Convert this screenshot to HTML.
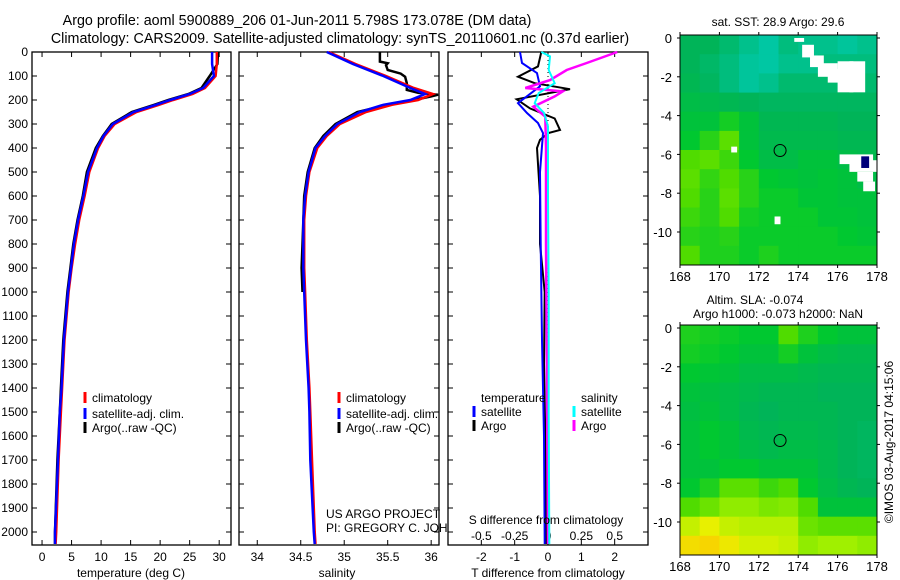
<!DOCTYPE html>
<html><head><meta charset="utf-8">
<style>
body{margin:0;background:#fff;}
svg{display:block;font-family:"Liberation Sans",sans-serif;}
text{font-size:12px;fill:#000;}
</style></head>
<body>
<svg id="fig" width="900" height="580" viewBox="0 0 900 580" xmlns="http://www.w3.org/2000/svg">
<text x="297" y="25" text-anchor="middle" style="font-size:14.3px">Argo profile: aoml 5900889_206 01-Jun-2011 5.798S 173.078E (DM data)</text>
<text x="340" y="43" text-anchor="middle" style="font-size:14.3px">Climatology: CARS2009. Satellite-adjusted climatology: synTS_20110601.nc (0.37d earlier)</text>
<g id="g"></g>
</svg>
<script>
// ---------- DATA ----------
const depthTicks=[0,100,200,300,400,500,600,700,800,900,1000,1100,1200,1300,1400,1500,1600,1700,1800,1900,2000];
const tempTicks=[0,5,10,15,20,25,30];
const salTicks=[34,34.5,35,35.5,36];
const diffTTicks=[-2,-1,0,1,2];
const diffSTicks=[-0.5,-0.25,0,0.25,0.5];
const diffSTickLabels=["-0.5","-0.25","0","0.25","0.5"];

const profDepth=[0,50,100,150,175,200,220,250,300,350,400,500,600,700,800,900,1000,1200,1400,1500,1700,2000,2050];
const tempClim=[29.6,29.6,29.4,27.6,25.5,22.2,19.8,16.0,12.3,10.6,9.5,8.0,7.2,6.3,5.6,5.0,4.5,3.8,3.4,3.2,2.8,2.4,2.3];
const tempSat=[28.8,28.8,29.1,27.3,25.0,21.7,19.3,15.5,12.0,10.4,9.3,7.8,7.0,6.1,5.4,4.9,4.4,3.7,3.3,3.0,2.7,2.2,2.2];
const tempArgo=[29.8,29.7,28.4,27.0,24.8,21.4,19.0,15.2,11.8,10.3,9.1,7.6,6.9,6.0,5.3,4.8,4.3,3.6,3.2,3.0,2.6,2.2,2.2];
const salClim=[34.82,35.13,35.48,35.8,36.02,35.85,35.55,35.25,34.95,34.8,34.69,34.6,34.56,34.54,34.54,34.54,34.55,34.57,34.6,34.61,34.63,34.66,34.67];
const salSat=[34.80,35.10,35.45,35.76,35.93,35.76,35.45,35.18,34.92,34.78,34.67,34.59,34.55,34.53,34.53,34.53,34.54,34.56,34.59,34.6,34.61,34.65,34.66];
const argoSDepth=[0,40,47,55,75,90,103,130,158,170,178,185,200,220,250,300,350,400,500,600,800,900,1000];
const salArgo=[35.41,35.41,35.5,35.48,35.5,35.65,35.7,35.72,35.72,35.85,36.08,36.0,35.8,35.5,35.15,34.9,34.76,34.66,34.58,34.54,34.52,34.51,34.52];

const dTDepthSat=[0,46,88,143,213,254,296,338,500,800,1200,1600,2050];
const dTSat=[-0.84,-0.78,-0.33,-0.24,-0.9,-0.63,-0.3,-0.15,-0.24,-0.22,-0.18,-0.12,-0.1];
const dTDepthArgo=[0,60,103,130,155,197,235,277,325,338,366,400,600,800,1000,1300,1600,2000,2050];
const dTArgo=[-0.2,-0.3,-0.9,-0.4,0.66,-0.94,-0.54,0.2,0.36,0.0,-0.24,-0.33,-0.24,-0.24,-0.1,-0.12,-0.08,-0.05,-0.05];
const dSDepthSat=[0,18,75,130,171,213,254,310,600,1000,1500,2050];
const dSSat=[-0.05,0.015,0.005,0.05,-0.07,-0.1,-0.03,0,0.0,0.005,0.005,0.01];
const dSDepthArgo=[0,46,75,117,150,164,185,228,269,400,800,1200,1600,2050];
const dSArgo=[0.52,0.29,0.14,0.015,-0.17,0.11,0.05,-0.11,-0.02,-0.015,-0.015,-0.01,-0.005,0.0];

const lonTicks=[168,170,172,174,176,178];
const latTicks=[0,-2,-4,-6,-8,-10];
const sstGrid=[
[0.45,0.45,0.42,0.38,0.35,0.40,0.38,0.38,0.36,0.38],
[0.45,0.43,0.40,0.36,0.35,0.38,0.38,0.40,0.40,0.40],
[0.46,0.44,0.40,0.36,0.38,0.42,0.42,0.42,0.42,0.42],
[0.48,0.47,0.46,0.45,0.44,0.44,0.44,0.44,0.44,0.44],
[0.50,0.50,0.54,0.50,0.46,0.46,0.46,0.46,0.45,0.45],
[0.52,0.56,0.62,0.50,0.47,0.47,0.47,0.47,0.46,0.46],
[0.60,0.62,0.58,0.52,0.48,0.48,0.50,0.50,0.48,0.47],
[0.62,0.57,0.60,0.56,0.52,0.51,0.50,0.51,0.50,0.48],
[0.60,0.56,0.62,0.56,0.53,0.53,0.51,0.51,0.50,0.50],
[0.58,0.56,0.60,0.54,0.53,0.53,0.53,0.51,0.51,0.50],
[0.56,0.55,0.56,0.53,0.53,0.53,0.53,0.53,0.52,0.51],
[0.60,0.55,0.55,0.53,0.55,0.53,0.53,0.53,0.53,0.53]];
const slaGrid=[
[0.55,0.54,0.53,0.52,0.52,0.60,0.55,0.52,0.50,0.50],
[0.54,0.53,0.52,0.50,0.50,0.54,0.50,0.48,0.47,0.47],
[0.52,0.51,0.50,0.48,0.48,0.48,0.47,0.46,0.46,0.46],
[0.50,0.49,0.48,0.47,0.46,0.46,0.46,0.45,0.45,0.45],
[0.49,0.50,0.48,0.46,0.45,0.46,0.46,0.46,0.45,0.45],
[0.50,0.52,0.50,0.47,0.46,0.47,0.47,0.46,0.45,0.44],
[0.50,0.52,0.50,0.48,0.47,0.48,0.48,0.47,0.45,0.44],
[0.50,0.50,0.52,0.52,0.50,0.50,0.50,0.47,0.45,0.44],
[0.52,0.55,0.62,0.62,0.58,0.60,0.52,0.48,0.46,0.45],
[0.60,0.65,0.72,0.72,0.68,0.70,0.60,0.50,0.50,0.50],
[0.80,0.85,0.80,0.78,0.78,0.78,0.65,0.62,0.62,0.62],
[0.92,0.95,0.88,0.82,0.82,0.80,0.72,0.75,0.75,0.72]];
// land/missing patches [lon0,lat0,lon1,lat1]
const sstMaskLon0=[173.8,174.2,174.6,175.0,175.5,176.0,176.6,176.1,176.6,177.0,177.3,172.8,170.6];
const sstMaskLat0=[0,-0.35,-0.9,-1.3,-1.6,-1.2,-1.2,-6.0,-6.3,-6.9,-7.4,-9.2,-5.6];
const sstMaskLon1=[174.3,174.8,175.3,176.0,176.8,176.8,177.4,177.8,178.0,177.8,177.9,173.1,170.9];
const sstMaskLat1=[-0.2,-1.0,-1.5,-2.0,-2.3,-2.8,-2.8,-6.5,-6.9,-7.4,-7.9,-9.6,-5.9];
const obsLon=[173.08];
const obsLat=[-5.8];

// ---------- HELPERS ----------
const NS="http://www.w3.org/2000/svg";
const G=document.getElementById('g');
function mk(tag,attrs,parent){const e=document.createElementNS(NS,tag);for(const k in attrs)e.setAttribute(k,attrs[k]);(parent||G).appendChild(e);return e;}
function txt(x,y,s,anchor,parent){const t=mk('text',{x:x,y:y,'text-anchor':anchor||'start'},parent);t.textContent=s;return t;}

const TOP=52, BOT=545;
const yD=d=>TOP+d*0.24;

function panel(name,x0,x1,vmin,vmax){
  const xs=v=>x0+(v-vmin)/(vmax-vmin)*(x1-x0);
  const g=mk('g',{});
  
  
  const r=mk('rect',{x:x0,y:TOP,width:x1-x0,height:BOT-TOP,fill:'#fff',stroke:'#000','stroke-width':1.3},g);
  
  
  depthTicks.forEach(d=>{
    mk('line',{x1:x0,x2:x0+5,y1:yD(d),y2:yD(d),stroke:'#000'},g);
    mk('line',{x1:x1,x2:x1-5,y1:yD(d),y2:yD(d),stroke:'#000'},g);
  });
  return {xs,g};
}
function tickX(p,vals,labels,x0,x1,y){
  vals.forEach((v,i)=>{
    const x=p.xs(v);
    mk('line',{x1:x,x2:x,y1:BOT,y2:BOT-5,stroke:'#000'},p.g);
    mk('line',{x1:x,x2:x,y1:TOP,y2:TOP+5,stroke:'#000'},p.g);
    const t=txt(x,y,labels[i],'middle',p.g);
    
    
  });
}
function line(p,xsArr,dArr,color,w,name){
  const pts=xsArr.map((v,i)=>p.xs(v).toFixed(1)+','+yD(dArr[i]).toFixed(1)).join(' ');
  const l=mk('polyline',{points:pts,fill:'none',stroke:color,'stroke-width':w},p.g);
  
  
}
function legend(x,y,color,label,parent){
  mk('line',{x1:x,x2:x,y1:y-10,y2:y+1,stroke:color,'stroke-width':3},parent);
  const t=txt(x+7,y,label,'start',parent);
  
  
}

// depth tick labels
depthTicks.forEach(d=>{
  const t=txt(28,yD(d)+4,String(d),'end');
  
  
});

// Panel 1 temperature
const p1=panel('temperature-panel',32,231,-1.7,32);
tickX(p1,tempTicks,tempTicks.map(String),32,231,561);
line(p1,tempArgo,profDepth,'#000',2.5,'argo-temperature-line');
line(p1,tempClim,profDepth,'#f00',2.5,'climatology-temperature-line');
line(p1,tempSat,profDepth,'#00f',2.5,'satellite-temperature-line');
legend(85,402,'#f00','climatology',p1.g);
legend(85,418,'#00f','satellite-adj. clim.',p1.g);
legend(85,432,'#000','Argo(..raw -QC)',p1.g);
const t1=txt(131,577,'temperature (deg C)','middle');



// Panel 2 salinity
const p2=panel('salinity-panel',239,439,33.79,36.09);
tickX(p2,salTicks,["34","34.5","35","35.5","36"],239,439,561);
line(p2,salArgo,argoSDepth,'#000',2.5,'argo-salinity-line');
line(p2,salClim,profDepth,'#f00',2.5,'climatology-salinity-line');
line(p2,salSat,profDepth,'#00f',2.5,'satellite-salinity-line');
legend(339,402,'#f00','climatology',p2.g);
legend(339,418,'#00f','satellite-adj. clim.',p2.g);
legend(339,432,'#000','Argo(..raw -QC)',p2.g);
const t2=txt(337,577,'salinity','middle');


const c1=txt(326,518,'US ARGO PROJECT');


const c2=txt(326,532,'PI: GREGORY C. JOHNSON');



// Panel 3 differences
const p3=panel('difference-panel',448,648,-3,3);
tickX(p3,diffTTicks,diffTTicks.map(String),448,648,561);
mk('line',{x1:p3.xs(0),x2:p3.xs(0),y1:TOP,y2:BOT,stroke:'#000','stroke-dasharray':'1,3'},p3.g);
const sToT=s=>s*4;
diffSTicks.forEach((s,i)=>{
  const t=txt(p3.xs(sToT(s)),540,diffSTickLabels[i],'middle',p3.g);
  
  
});
line(p3,dTArgo,dTDepthArgo,'#000',2,'argo-t-diff-line');
line(p3,dTSat,dTDepthSat,'#00f',2,'satellite-t-diff-line');
line(p3,dSArgo.map(sToT),dSDepthArgo,'#f0f',2.5,'argo-s-diff-line');
line(p3,dSSat.map(sToT),dSDepthSat,'#0ff',2,'satellite-s-diff-line');
const lh1=txt(481,402,'temperature','start',p3.g);


const lh2=txt(581,402,'salinity','start',p3.g);


legend(474,416,'#00f','satellite',p3.g);
legend(474,430,'#000','Argo',p3.g);
legend(574,416,'#0ff','satellite',p3.g);
legend(574,430,'#f0f','Argo',p3.g);
const st=txt(546,524,'S difference from climatology','middle');


const tt=txt(548,577,'T difference from climatology','middle');



// ---------- MAPS ----------
const stops=[[0.30,[0,208,200]],[0.45,[0,180,88]],[0.52,[0,200,48]],[0.60,[80,220,0]],[0.75,[160,240,0]],[0.85,[232,240,0]],[1.0,[255,200,0]]];
function cmap(v){
  if(v<=stops[0][0])return 'rgb('+stops[0][1]+')';
  for(let i=1;i<stops.length;i++){
    if(v<=stops[i][0]){const a=stops[i-1],b=stops[i];const f=(v-a[0])/(b[0]-a[0]);
      const c=a[1].map((q,k)=>Math.round(q+(b[1][k]-q)*f));return 'rgb('+c.join(',')+')';}
  }
  return 'rgb('+stops[stops.length-1][1]+')';
}
function map(name,x0,x1,yTop,yBot,lat0y,grid,maskOn){
  const lx=lon=>x0+(lon-168)/10*(x1-x0);
  const ly=lat=>lat0y+(-lat)*19.4;
  const g=mk('g',{});
  
  
  const latBot=-(yBot-lat0y)/19.4;
  const rows=grid.length, cols=grid[0].length;
  for(let r=0;r<rows;r++)for(let c=0;c<cols;c++){
    const la0=0-r*(-latBot+0.15)/rows+0.15, la1=0-(r+1)*(-latBot+0.15)/rows+0.15;
    const cell=mk('rect',{x:lx(168+c).toFixed(1),y:Math.max(yTop,ly(la0)).toFixed(1),width:(lx(169)-lx(168)+0.5).toFixed(1),height:(ly(la1)-Math.max(yTop,ly(la0))+0.5).toFixed(1),fill:cmap(grid[r][c])},g);
    
    
  }
  if(maskOn){
    sstMaskLon0.forEach((l0,i)=>{
      const m=mk('rect',{x:lx(l0),y:ly(sstMaskLat0[i]),width:lx(sstMaskLon1[i])-lx(l0),height:ly(sstMaskLat1[i])-ly(sstMaskLat0[i]),fill:'#fff'},g);
      
      
    });
    const nv=mk('rect',{x:lx(177.2),y:ly(-6.1),width:lx(177.6)-lx(177.2),height:ly(-6.7)-ly(-6.1),fill:'#00007a'},g);
    
    
  }
  obsLon.forEach((lo,i)=>{
    const c=mk('circle',{cx:lx(lo),cy:ly(obsLat[i]),r:6,fill:'none',stroke:'#000','stroke-width':1},g);
    
    
  });
  const f=mk('rect',{x:x0,y:yTop,width:x1-x0,height:yBot-yTop,fill:'none',stroke:'#000','stroke-width':1},g);
  
  
  lonTicks.forEach(lo=>{
    mk('line',{x1:lx(lo),x2:lx(lo),y1:yBot,y2:yBot+3,stroke:'#000'},g);
    mk('line',{x1:lx(lo),x2:lx(lo),y1:yTop,y2:yTop-3,stroke:'#000'},g);
    const t=txt(lx(lo),yBot+16,String(lo),'middle',g);
    t.style.fontSize='13px';
    
    
  });
  latTicks.forEach(la=>{
    mk('line',{x1:x0,x2:x0-3,y1:ly(la),y2:ly(la),stroke:'#000'},g);
    mk('line',{x1:x1,x2:x1+3,y1:ly(la),y2:ly(la),stroke:'#000'},g);
    const t=txt(x0-8,ly(la)+5,String(la),'end',g);
    t.style.fontSize='13px';
    
    
  });
  return g;
}
map('sst-map',680,877,35,265,38,sstGrid,true);
map('sla-map',680,877,325,555,328,slaGrid,false);
const m1=txt(778,26,'sat. SST: 28.9 Argo: 29.6','middle');


const m2=txt(755,304,'Altim. SLA: -0.074','middle');


const m3=txt(778,318,'Argo h1000: -0.073 h2000: NaN','middle');


const cr=txt(0,0,'©IMOS 03-Aug-2017 04:15:06','middle');
cr.setAttribute('transform','translate(893,442) rotate(-90)');


</script>
</body></html>
